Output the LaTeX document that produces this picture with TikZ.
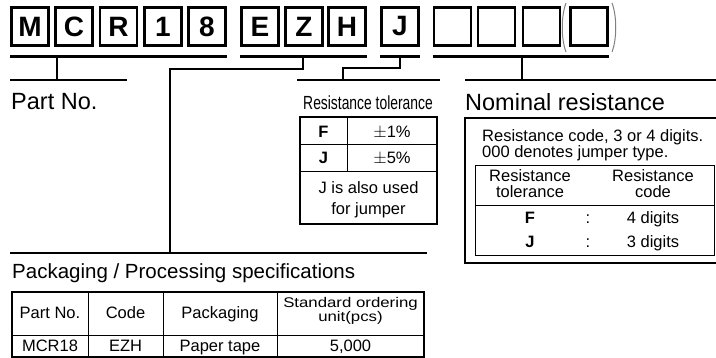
\documentclass[tikz,border=0pt]{standalone}
\usepackage{fontspec}
\setmainfont{Liberation Sans}
\usetikzlibrary{positioning}

\begin{document}
\begin{tikzpicture}[x=1pt,y=-1pt,
    letterbox/.style={draw,line width=2.8pt,minimum width=37pt,minimum height=38pt,inner sep=0pt,
        font=\fontsize{28}{30}\selectfont\bfseries},
    bar/.style={line width=2.8pt},
    thinline/.style={line width=0.9pt},
    frame/.style={line width=2.2pt},
    big/.style={font=\fontsize{23.5}{26}\selectfont,inner sep=0pt},
    txt/.style={font=\fontsize{16.5}{18}\selectfont,inner sep=0pt},
    boldtxt/.style={font=\fontsize{16.5}{18}\selectfont\bfseries,inner sep=0pt},
    paren/.style={gray,line width=1pt}]
    \clip (0,0) rectangle (716,358);

    % code letters
    \foreach \name/\x in {M/30, C/74, R/118.5, 1/163, 8/207, E/260, Z/304, H/347, J/400}
        \node[letterbox] (box\name) at (\x,26.5) {\name};
    \foreach \i/\x in {1/452.5, 2/496.5, 3/541.5, 4/589}
        \node[letterbox] (blank\i) at (\x,26.5) {};
    \draw[paren] (566,3) .. controls (561,16) and (561,39) .. (566,52);
    \draw[paren] (612,3) .. controls (617,16) and (617,39) .. (612,52);

    % bars under the groups
    \draw[bar] ([yshift=-10pt]boxM.south west) -- ([yshift=-10pt]box8.south east);
    \draw[bar] ([yshift=-10pt]boxE.south west) -- ([yshift=-10pt]boxH.south east);
    \draw[bar] ([yshift=-10pt]boxJ.south west) -- ([yshift=-10pt]boxJ.south east);
    \draw[bar] ([yshift=-10pt]blank1.south west) -- ([yshift=-10pt]blank4.south east);

    % leaders
    \coordinate (partTop) at (57,57);
    \coordinate (packTop) at (303,57);
    \coordinate (tolTop) at (400,57);
    \coordinate (nomTop) at (522,57);
    \draw[bar] (partTop) -- (57,80);
    \draw[bar] (10,80) -- (127,80);
    \draw[bar] (packTop) -- (303,69) -- (170,69) -- (170,253);
    \draw[bar] (10,253) -- (427,253);
    \draw[bar] (tolTop) -- (400,68) -- (343,68) -- (343,80);
    \draw[bar] (297,80) -- (440,80);
    \draw[bar] (nomTop) -- (522,80);
    \draw[bar] (465,80) -- (720,80);

    % Part No.
    \node[big,anchor=base west] (partno) at (11,110) {Part No.};

    % Resistance tolerance
    \node[inner sep=0pt,anchor=base,font=\fontsize{19}{21}\selectfont] (toltitle) at (368,110)
        {\scalebox{0.73}[1]{Resistance tolerance}};
    \draw[frame] (300,117) rectangle (437,224);
    \draw[thinline] (347,117) -- (347,171);
    \draw[thinline] (300,144) -- (437,144);
    \draw[thinline] (300,171) -- (437,171);
    \node[boldtxt,anchor=base] (tolF) at (323.5,138) {F};
    \node[txt,anchor=base] (tolFval) at (392,138) {$\pm$1\%};
    \node[boldtxt,anchor=base] (tolJ) at (323.5,164) {J};
    \node[txt,anchor=base] (tolJval) at (392,164) {$\pm$5\%};
    \node[txt,anchor=base] (jumper1) at (368.5,194) {J is also used};
    \node[txt,anchor=base] (jumper2) at (368.5,215) {for jumper};

    % Nominal resistance
    \node[big,anchor=base west] (nomtitle) at (465,111) {Nominal resistance};
    \draw[bar] (465,118) rectangle (740,263);
    \node[txt,anchor=base west] (nomline1) at (482,142) {Resistance code, 3 or 4 digits.};
    \node[txt,anchor=base west] (nomline2) at (482,158) {000 denotes jumper type.};
    \draw[thinline] (475,165) rectangle (714,255);
    \draw[thinline] (475,205) -- (714,205);
    \node[txt,anchor=base] (hTol1) at (530,182) {Resistance};
    \node[txt,anchor=base] (hTol2) at (530,198) {tolerance};
    \node[txt,anchor=base] (hCode1) at (653,182) {Resistance};
    \node[txt,anchor=base] (hCode2) at (653,198) {code};
    \node[boldtxt,anchor=base] (rowF) at (530,224) {F};
    \node[txt,anchor=base] (colonF) at (588,224) {:};
    \node[txt,anchor=base] (digitsF) at (653,224) {4 digits};
    \node[boldtxt,anchor=base] (rowJ) at (530,248) {J};
    \node[txt,anchor=base] (colonJ) at (588,248) {:};
    \node[txt,anchor=base] (digitsJ) at (653,248) {3 digits};

    % Packaging
    \node[inner sep=0pt,anchor=base west,font=\fontsize{20.5}{22}\selectfont] (packtitle) at (12,279)
        {Packaging / Processing specifications};
    \draw[frame] (12,292) rectangle (424,357);
    \draw[thinline] (12,335) -- (424,335);
    \draw[thinline] (88,292) -- (88,357);
    \draw[thinline] (163,292) -- (163,357);
    \draw[thinline] (277,292) -- (277,357);
    \node[txt,anchor=base] (cPart) at (50,319) {Part No.};
    \node[txt,anchor=base] (cCode) at (125.5,319) {Code};
    \node[txt,anchor=base] (cPack) at (220,319) {Packaging};
    \node[inner sep=0pt,anchor=base,font=\fontsize{14}{15}\selectfont] (cUnit1) at (350.5,308)
        {\scalebox{1.2}[1]{Standard ordering}};
    \node[inner sep=0pt,anchor=base,font=\fontsize{14}{15}\selectfont] (cUnit2) at (350.5,322)
        {\scalebox{1.2}[1]{unit(pcs)}};
    \node[txt,anchor=base] (vPart) at (50,352) {MCR18};
    \node[txt,anchor=base] (vCode) at (125.5,352) {EZH};
    \node[txt,anchor=base] (vPack) at (220,352) {Paper tape};
    \node[txt,anchor=base] (vUnit) at (350.5,352) {5,000};
\end{tikzpicture}
\end{document}
